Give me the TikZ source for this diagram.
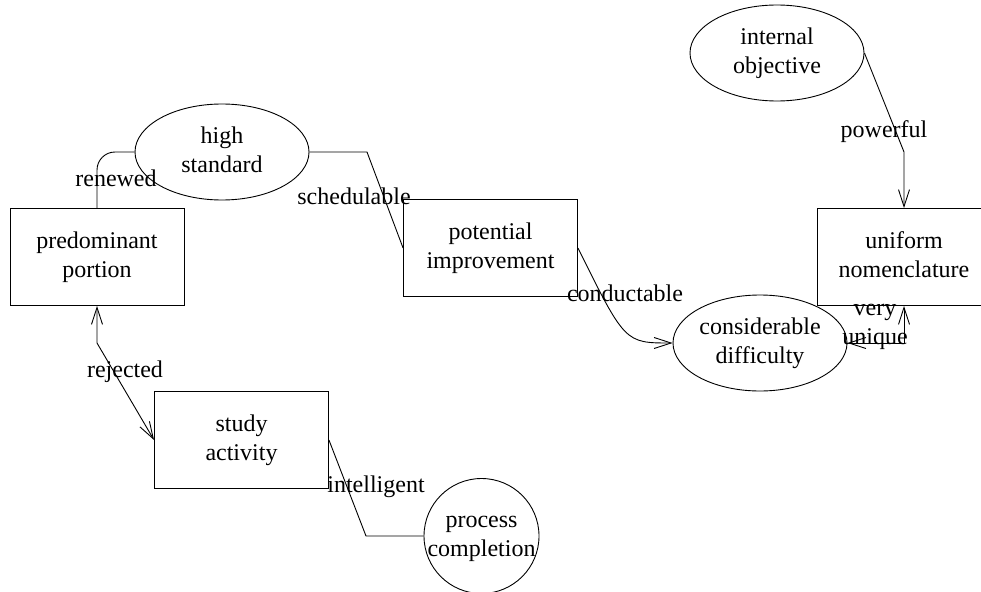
\documentclass[tikz,border=0pt]{standalone}
\usepackage{fontspec}
\setmainfont{Liberation Serif}
\usetikzlibrary{shapes.geometric,arrows.meta}
\begin{document}
\begin{tikzpicture}[x=1pt,y=-1pt,
  every node/.style={font=\fontsize{24}{29}\selectfont, align=center, inner sep=0pt},
  boxnode/.style={draw, rectangle, line width=0.9pt, minimum width=174pt, minimum height=97pt},
  ellnode/.style={draw, ellipse, line width=0.9pt, minimum width=174pt, minimum height=96pt},
  circnode/.style={draw, circle, line width=0.9pt, minimum size=115pt, inner sep=-8pt},
  lbl/.style={anchor=base},
  conn/.style={draw, line width=0.9pt},
  tipend/.style={-{Straight Barb[length=17pt,width=11pt]}},
  tipboth/.style={{Straight Barb[length=17pt,width=11pt]}-{Straight Barb[length=17pt,width=11pt]}}
]
\useasboundingbox (0,0) rectangle (981,591);

\node[ellnode] (io) at (777,53) {\strut internal\\\strut objective};
\node[ellnode] (hs) at (222,152) {\strut high\\\strut standard};
\node[boxnode] (pp) at (97,257) {\strut predominant\\\strut portion};
\node[boxnode] (pi) at (490.5,248) {\strut potential\\\strut improvement};
\node[boxnode] (un) at (904,257) {\strut uniform\\\strut nomenclature};
\node[ellnode] (cd) at (760,343) {\strut considerable\\\strut difficulty};
\node[boxnode] (sa) at (241.5,440) {\strut study\\\strut activity};
\node[circnode] (pc) at (481.5,536) {\strut process\\\strut completion};

\coordinate (sbend) at (367,152);
\coordinate (pbend) at (904,152);
\coordinate (rbend) at (97,343);
\coordinate (ibend) at (366,536);

\draw[conn, rounded corners=18pt] (pp.north) |- (hs.west);
\draw[conn] (hs.east) -- (sbend) -- (pi.west);
\draw[conn, tipend] (pi.east) .. controls (625,343) .. (cd.west);
\draw[conn, tipend] (io.east) -- (pbend) -- (un.north);
\draw[conn, tipboth] (cd.east) -| (un.south);
\draw[conn, tipboth] (pp.south) -- (rbend) -- (sa.west);
\draw[conn] (sa.east) -- (ibend) -- (pc.west);

\node[lbl] (lren) at (116,186) {renewed};
\node[lbl] (lsch) at (354,204) {schedulable};
\node[lbl] (lcon) at (625,301) {conductable};
\node[lbl] (lpow) at (884,137) {powerful};
\node (lvu) at (875,327) {very\\unique};
\node[lbl] (lrej) at (125,377) {rejected};
\node[lbl] (lint) at (376,492) {intelligent};
\end{tikzpicture}
\end{document}
